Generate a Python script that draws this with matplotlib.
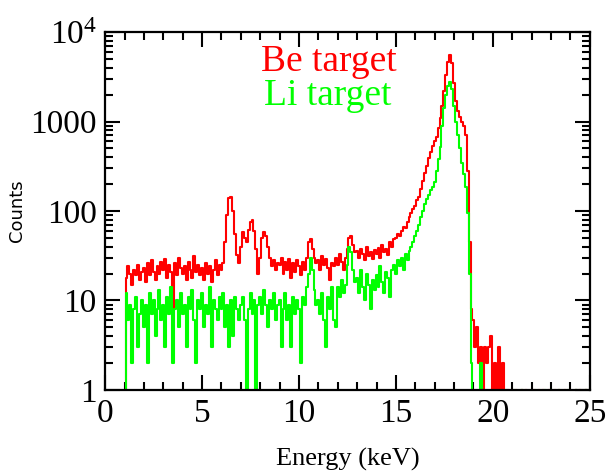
import numpy as np
import matplotlib
matplotlib.use("Agg")
import matplotlib.pyplot as plt
from matplotlib.ticker import MultipleLocator, LogLocator, NullFormatter

# ── Datos: cuentas por canal de 0.1 keV, desde 1.0 keV ─────────────────────
E_START = 1.0
E_STEP = 0.1

be_counts = [
    0, 18, 24, 20, 15, 22, 19, 25, 17, 21,              # 1
    23, 16, 26, 19, 28, 21, 17, 24, 20, 27,             # 2
    22, 29, 18, 25, 21, 8, 26, 19, 30, 23,              # 3
    20, 24, 17, 27, 22, 18, 31, 21, 25, 19,             # 4
    23, 17, 26, 20, 24, 16, 22, 28, 19, 25,             # 5
    22, 26, 45, 90, 140, 145, 100, 55, 32, 26,          # 6
    40, 58, 50, 45, 62, 75, 80, 60, 38, 20,             # 7
    30, 50, 58, 52, 40, 30, 24, 28, 22, 26,             # 8
    25, 30, 20, 27, 22, 29, 18, 26, 21, 28,             # 9
    24, 19, 27, 22, 30, 45, 48, 38, 30, 26,             # 10
    28, 22, 31, 25, 29, 23, 17, 26, 24, 30,             # 11
    25, 33, 27, 22, 30, 38, 50, 52, 42, 35,             # 12
    36, 30, 38, 33, 28, 40, 31, 35, 29, 37,             # 13
    33, 39, 30, 42, 35, 38, 32, 45, 40, 48,             # 14
    50, 55, 52, 60, 66, 64, 75, 86, 95, 105,            # 15
    115, 133, 145, 175, 215, 265, 320, 390, 460, 530,   # 16
    600, 680, 850, 1100, 1500, 2200, 3300, 4600, 5600, 4500,  # 17
    2700, 1700, 1300, 1120, 1000, 900, 700, 280, 45, 8,       # 18
    6, 3, 5, 2, 3, 0, 3, 2, 3, 4,                       # 19
    1, 2, 0, 3, 0, 2, 0, 0, 1, 0,                       # 20
    1, 0, 1, 0, 0, 1, 0, 1, 0, 0,                       # 21
    0, 1, 0, 0, 1, 0, 1, 0, 0, 1,                       # 22
    0, 0, 1, 0, 1, 0, 0, 1, 0, 0,                       # 23
    1, 0, 0, 1, 0, 1, 0, 0, 1, 0,                       # 24
]

li_counts = [
    0, 12, 6, 9, 2, 8, 11, 3, 7, 10,                    # 1
    5, 9, 2, 12, 7, 10, 4, 8, 13, 6,                    # 2
    9, 3, 11, 7, 14, 2, 8, 10, 5, 12,                   # 3
    7, 9, 3, 11, 8, 13, 6, 2, 10, 8,                    # 4
    12, 5, 9, 7, 14, 3, 10, 8, 6, 11,                   # 5
    8, 12, 5, 9, 3, 10, 4, 11, 8, 6,                    # 6
    9, 11, 6, 0, 8, 12, 7, 10, 0, 9,                    # 7
    11, 7, 13, 9, 5, 10, 8, 12, 6, 9,                   # 8
    10, 3, 8, 12, 6, 9, 3, 11, 7, 10,                   # 9
    8, 2, 11, 9, 14, 20, 30, 22, 13, 9,                 # 10
    10, 7, 12, 6, 3, 11, 8, 14, 6, 5,                   # 11
    14, 11, 17, 12, 15, 25, 40, 35, 22, 16,             # 12
    18, 12, 22, 14, 10, 20, 15, 8, 17, 13,              # 13
    19, 14, 24, 16, 12, 21, 18, 11, 22, 25,             # 14
    20, 28, 24, 30, 22, 33, 28, 36, 40, 45,             # 15
    52, 60, 70, 85, 100, 120, 135, 150, 170, 185,       # 16
    210, 280, 380, 520, 900, 1400, 2000, 2500, 2800, 2300,  # 17
    1500, 1000, 700, 500, 340, 260, 185, 95, 20, 2,         # 18
    0, 0, 0, 0, 2, 0, 0, 0, 0, 0,                       # 19
    0, 0, 0, 0, 1, 0, 0, 1, 0, 0,                       # 20
    0, 1, 0, 0, 0, 1, 0, 0, 0, 0,                       # 21
    0, 0, 1, 0, 0, 0, 0, 1, 0, 0,                       # 22
    1, 0, 0, 0, 1, 0, 0, 0, 0, 1,                       # 23
    0, 0, 0, 1, 0, 0, 0, 0, 1, 0,                       # 24
]

y_ticks = [1, 10, 100, 1000, 10000]
y_ticklabels = ['1', '10', '100', '1000', r'$\mathregular{10^4}$']

energy = E_START + E_STEP * np.arange(len(be_counts))

plt.rcParams['font.family'] = 'Liberation Serif'
plt.rcParams['mathtext.fontset'] = 'custom'
plt.rcParams['mathtext.rm'] = 'Liberation Serif'

fig = plt.figure(figsize=(6.08, 4.72), dpi=100)
ax = fig.add_axes([0.173, 0.174, 0.797, 0.758])

ax.plot(energy, be_counts, color='#ff0000', lw=1.5, drawstyle='steps-mid')
ax.plot(energy, li_counts, color='#00ff00', lw=1.5, drawstyle='steps-mid')

ax.set_yscale('log')
ax.set_xlim(0, 25)
ax.set_ylim(1, 10000)

ax.xaxis.set_major_locator(MultipleLocator(5))
ax.xaxis.set_minor_locator(MultipleLocator(1))
ax.set_yticks(y_ticks)
ax.set_yticklabels(y_ticklabels)
ax.yaxis.set_minor_locator(LogLocator(base=10, subs=np.arange(2, 10)))
ax.yaxis.set_minor_formatter(NullFormatter())

ax.tick_params(which='both', direction='in', top=True, right=True,
               width=1.5, labelsize=24, pad=6)
ax.tick_params(which='major', length=11)
ax.tick_params(which='minor', length=6)
for s in ax.spines.values():
    s.set_linewidth(1.6)

ax.set_xlabel("Energy (keV)", fontsize=19, labelpad=14)
ax.set_ylabel("Counts", fontsize=13, family='DejaVu Sans')
ax.yaxis.set_label_coords(-0.163, 0.5)

ax.text(0.322, 0.89, "Be target", color='#ff0000', fontsize=27,
        transform=ax.transAxes)
ax.text(0.328, 0.795, "Li target", color='#00ff00', fontsize=27,
        transform=ax.transAxes)

fig.savefig("out.png", dpi=100)
